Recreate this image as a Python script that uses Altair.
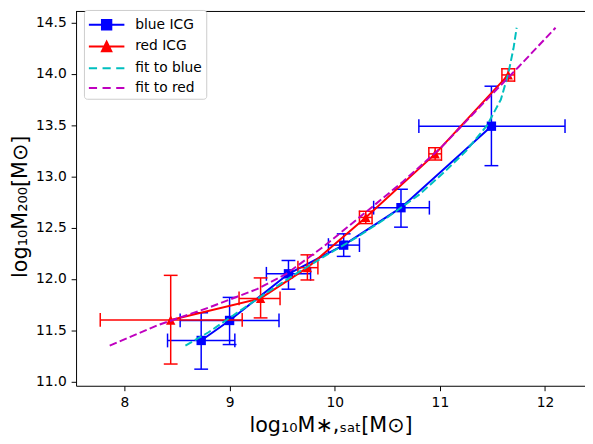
import altair as alt
import pandas as pd

# ---------------- data ----------------
series_names = ["blue ICG", "red ICG", "fit to blue", "fit to red"]

blue_x = [8.73, 9.00, 9.56, 10.085, 10.63, 11.49]
blue_y = [11.40, 11.595, 12.05, 12.33, 12.695, 13.49]
blue_xlo = [8.41, 8.53, 9.35, 9.94, 10.37, 10.80]
blue_xhi = [9.05, 9.47, 9.77, 10.235, 10.90, 12.19]
blue_ylo = [11.12, 11.36, 11.90, 12.22, 12.505, 13.105]
blue_yhi = [11.67, 11.82, 12.18, 12.44, 12.875, 13.88]

red_x = [8.44, 9.295, 9.74, 10.295, 10.955, 11.65]
red_y = [11.60, 11.81, 12.11, 12.60, 13.22, 13.99]
red_xlo = [7.77, 9.09, 9.65, 10.235, 10.895, 11.59]
red_xhi = [9.12, 9.48, 9.84, 10.355, 11.015, 11.71]
red_ylo = [11.17, 11.62, 11.99, 12.54, 13.16, 13.93]
red_yhi = [12.035, 12.01, 12.235, 12.66, 13.28, 14.05]

fitb_x = [8.58, 8.8, 9.0, 9.3, 9.6, 9.9, 10.2, 10.5, 10.8, 11.05, 11.25, 11.45, 11.58, 11.65, 11.70, 11.73]
fitb_y = [11.35, 11.48, 11.62, 11.83, 12.03, 12.22, 12.40, 12.60, 12.82, 13.05, 13.25, 13.50, 13.75, 14.0, 14.25, 14.45]

fitr_x = [7.86, 8.32, 8.8, 9.26, 9.54, 9.9, 10.27, 10.65, 11.01, 11.4, 11.75, 12.10]
fitr_y = [11.35, 11.55, 11.72, 11.90, 12.05, 12.32, 12.63, 12.95, 13.28, 13.70, 14.07, 14.45]

x_ticks = [8, 9, 10, 11, 12]
y_ticks = [11.0, 11.5, 12.0, 12.5, 13.0, 13.5, 14.0, 14.5]

# ---------------- layout / style ----------------
W, H = 516, 380
FONT = "DejaVu Sans"
BLUE, RED, CYAN, MAG = "#0000ff", "#ff0000", "#00bfbf", "#bf00bf"
DASH = [7.7, 3.3]

xs = alt.Scale(domain=[7.54, 12.38], nice=False, zero=False)
ys = alt.Scale(domain=[10.958, 14.614], nice=False, zero=False)

x_axis = alt.Axis(
    title="log₁₀M∗,ₛₐₜ[M⊙]", values=x_ticks, format="d", grid=False,
    titleX=W / 2, titleY=46, titleBaseline="alphabetic", titleAlign="center",
)
y_axis = alt.Axis(
    title="log₁₀M₂₀₀[M⊙]", values=y_ticks, format=".1f", grid=False,
    titleX=-56, titleY=198, titleBaseline="middle", titleAlign="center", titleAngle=270,
)


def X(f):
    return alt.X(f, type="quantitative", scale=xs, axis=x_axis)


def Y(f):
    return alt.Y(f, type="quantitative", scale=ys, axis=y_axis)


def group(xv, yv, xlo, xhi, ylo, yhi, color, shape):
    df = pd.DataFrame(dict(x=xv, y=yv, xlo=xlo, xhi=xhi, ylo=ylo, yhi=yhi))
    b = alt.Chart(df)
    lay = [
        b.mark_rule(color=color, strokeWidth=1.5).encode(x=X("xlo"), x2="xhi", y=Y("y")),
        b.mark_rule(color=color, strokeWidth=1.5).encode(x=X("x"), y=Y("ylo"), y2="yhi"),
        b.mark_tick(color=color, orient="vertical", size=14, thickness=1.5, opacity=1).encode(x=X("xlo"), y=Y("y")),
        b.mark_tick(color=color, orient="vertical", size=14, thickness=1.5, opacity=1).encode(x=X("xhi"), y=Y("y")),
        b.mark_tick(color=color, orient="horizontal", size=14, thickness=1.5, opacity=1).encode(x=X("x"), y=Y("ylo")),
        b.mark_tick(color=color, orient="horizontal", size=14, thickness=1.5, opacity=1).encode(x=X("x"), y=Y("yhi")),
        b.mark_line(color=color, strokeWidth=2).encode(x=X("x"), y=Y("y")),
        b.mark_point(color=color, shape=shape, filled=True, size=90, opacity=1, strokeWidth=0).encode(x=X("x"), y=Y("y")),
    ]
    return lay


def fit(xv, yv, color):
    df = pd.DataFrame(dict(x=xv, y=yv, i=list(range(len(xv)))))
    return alt.Chart(df).mark_line(color=color, strokeWidth=2, strokeDash=DASH).encode(
        x=X("x"), y=Y("y"), order="i:Q")


layers = []
layers += group(blue_x, blue_y, blue_xlo, blue_xhi, blue_ylo, blue_yhi, BLUE, "square")
layers += group(red_x, red_y, red_xlo, red_xhi, red_ylo, red_yhi, RED, "M0,-1L-1,1L1,1Z")
layers.append(fit(fitb_x, fitb_y, CYAN))
layers.append(fit(fitr_x, fitr_y, MAG))

# top frame line
layers.append(
    alt.Chart(pd.DataFrame({"k": [0]})).mark_rule(color="black", strokeWidth=1).encode(
        x=alt.value(0), x2=alt.value(W), y=alt.value(0.5))
)

# legend (symbols: line + marker / dashed line); symbol box 20px, path spans 36px to the right
sym_paths = [
    "M-1,0H2.6M0.325,-0.475H1.275V0.475H0.325Z",
    "M-1,0H2.6M0.8,-0.475L1.275,0.475H0.325Z",
    "M-1,0H-0.17M0.385,0H1.215M1.77,0H2.6",
    "M-1,0H-0.17M0.385,0H1.215M1.77,0H2.6",
]
leg = alt.Legend(
    title=None, orient="none", legendX=8, legendY=-1,
    symbolSize=400, symbolStrokeWidth=2, symbolOffset=0,
    labelFontSize=14, labelFont=FONT,
    labelColor="black", fillColor="white", strokeColor="#cccccc", cornerRadius=3,
    padding=4, rowPadding=2, labelOffset=26,
)
leg_df = pd.DataFrame({"series": series_names})
layers.append(
    alt.Chart(leg_df).transform_filter("false").mark_point(filled=True, strokeWidth=2, opacity=1).encode(
        fill=alt.Fill("series:N", scale=alt.Scale(domain=series_names, range=[BLUE, RED, "transparent", "transparent"]), legend=leg),
        stroke=alt.Stroke("series:N", scale=alt.Scale(domain=series_names, range=[BLUE, RED, CYAN, MAG]), legend=leg),
        shape=alt.Shape("series:N", scale=alt.Scale(domain=series_names, range=sym_paths), legend=leg),
    )
)

chart = alt.layer(*layers).properties(
    width=W, height=H,
    autosize=alt.AutoSizeParams(type="none"),
    padding={"left": 69, "top": 0, "right": 0, "bottom": 53},
).configure_view(stroke="transparent").configure_axis(
    domainColor="black", domainWidth=1, tickColor="black", tickSize=5, tickWidth=1,
    labelColor="black", labelFont=FONT, labelFontSize=14, labelPadding=5,
    titleFont=FONT, titleFontSize=21, titleFontWeight="normal", titleColor="black",
)

chart.save("out.html", embed_options={"renderer": "svg", "actions": False})
